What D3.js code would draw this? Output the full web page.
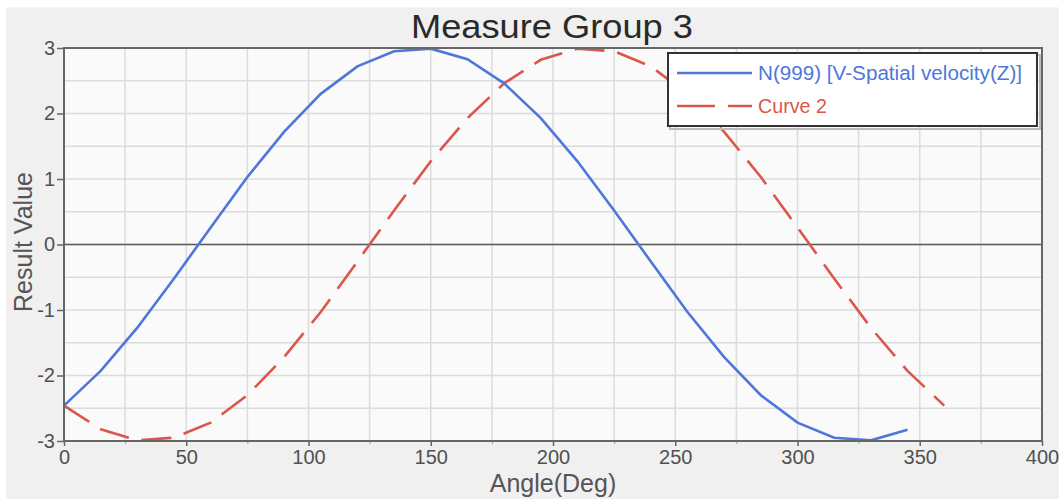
<!DOCTYPE html>
<html>
<head>
<meta charset="utf-8">
<script src="https://cdn.jsdelivr.net/npm/d3@7"></script>
<style>
  html, body { margin: 0; padding: 0; background: #ffffff; }
  svg { display: block; font-family: "Liberation Sans", Arial, sans-serif; }
</style>
</head>
<body>
<svg id="chart" width="1062" height="499"></svg>
<script>
// ---- data ----
const title = "Measure Group 3";
const xLabel = "Angle(Deg)";
const yLabel = "Result Value";
const seriesNames = ["N(999) [V-Spatial velocity(Z)]", "Curve 2"];

const angles1 = [0,15,30,45,60,75,90,105,120,135,150,165,180,195,210,225,240,255,270,285,300,315,330,345];
const values1 = [-2.46,-1.93,-1.27,-0.52,0.26,1.03,1.72,2.30,2.72,2.95,2.99,2.83,2.46,1.93,1.27,0.52,-0.26,-1.03,-1.72,-2.30,-2.72,-2.95,-2.99,-2.83];

const angles2 = [0,15,30,45,60,75,90,105,120,135,150,165,180,195,210,225,240,255,270,285,300,315,330,345,360];
const values2 = [-2.46,-2.82,-2.99,-2.95,-2.72,-2.30,-1.72,-1.03,-0.26,0.52,1.27,1.93,2.46,2.82,2.99,2.95,2.72,2.30,1.72,1.03,0.26,-0.52,-1.27,-1.93,-2.46];

const xTicks = [0,50,100,150,200,250,300,350,400];
const xMinor = [25,75,125,175,225,275,325,375];
const yTicks = [-3,-2,-1,0,1,2,3];
const yMinor = [-2.5,-1.5,-0.5,0.5,1.5,2.5];

// ---- styles ----
const blue = "#4f77d9";
const red = "#d9574b";

const svg = d3.select("#chart");

// outer panel
svg.append("rect").attr("x", 7).attr("y", 8).attr("width", 1051).attr("height", 495)
  .attr("fill", "#f0f0f0").attr("stroke", "#f6e4e4").attr("stroke-width", 1);

const x = d3.scaleLinear().domain([0, 400]).range([64, 1042]);
const y = d3.scaleLinear().domain([-3, 3]).range([441, 48]);

// plot background
svg.append("rect").attr("x", x(0)).attr("y", y(3))
  .attr("width", x(400) - x(0)).attr("height", y(-3) - y(3))
  .attr("fill", "#fafafa");

// grid
const grid = svg.append("g").attr("stroke", "#dcdcdc").attr("stroke-width", 1.5);
xTicks.concat(xMinor).forEach(v => {
  grid.append("line").attr("x1", x(v)).attr("x2", x(v)).attr("y1", y(-3)).attr("y2", y(3));
});
yTicks.concat(yMinor).forEach(v => {
  grid.append("line").attr("x1", x(0)).attr("x2", x(400)).attr("y1", y(v)).attr("y2", y(v));
});

// zero line
svg.append("line").attr("x1", x(0)).attr("x2", x(400)).attr("y1", y(0)).attr("y2", y(0))
  .attr("stroke", "#5a5a5a").attr("stroke-width", 1.5);

// lines
const line = d3.line().x(d => x(d[0])).y(d => y(d[1]));
svg.append("path").datum(angles2.map((a, i) => [a, values2[i]]))
  .attr("d", line).attr("fill", "none").attr("stroke", red).attr("stroke-width", 2.6)
  .attr("stroke-dasharray", "30,13");
svg.append("path").datum(angles1.map((a, i) => [a, values1[i]]))
  .attr("d", line).attr("fill", "none").attr("stroke", blue).attr("stroke-width", 2.6);

// axes
const fmt = d => String(d);
const xAxis = d3.axisBottom(x).tickValues(xTicks).tickSize(5).tickPadding(4).tickFormat(fmt);
const gx = svg.append("g").attr("transform", `translate(0,${y(-3)})`).call(xAxis);
gx.select(".domain").remove();
gx.selectAll("line").attr("stroke", "#666").attr("stroke-width", 1.5);
gx.selectAll("text").attr("font-size", 20).attr("fill", "#505050").attr("font-family", "Liberation Sans, Arial, sans-serif");

const xAxisMinor = d3.axisBottom(x).tickValues(xMinor).tickSize(3).tickFormat("");
const gxm = svg.append("g").attr("transform", `translate(0,${y(-3)})`).call(xAxisMinor);
gxm.select(".domain").remove();
gxm.selectAll("line").attr("stroke", "#999").attr("stroke-width", 1);

const yAxis = d3.axisLeft(y).tickValues(yTicks).tickSize(7).tickPadding(2).tickFormat(fmt);
const gy = svg.append("g").attr("transform", `translate(${x(0)},0)`).call(yAxis);
gy.select(".domain").remove();
gy.selectAll("line").attr("stroke", "#666").attr("stroke-width", 1.5);
gy.selectAll("text").attr("font-size", 20).attr("fill", "#505050").attr("font-family", "Liberation Sans, Arial, sans-serif");

// frame
svg.append("rect").attr("x", x(0)).attr("y", y(3))
  .attr("width", x(400) - x(0)).attr("height", y(-3) - y(3))
  .attr("fill", "none").attr("stroke", "#666").attr("stroke-width", 2);

// title
svg.append("text").attr("x", 552).attr("y", 38).attr("text-anchor", "middle")
  .attr("font-size", 33).attr("fill", "#2a2a2a").attr("textLength", 282).attr("lengthAdjust", "spacingAndGlyphs")
  .text(title);

// axis labels
svg.append("text").attr("x", 553).attr("y", 492).attr("text-anchor", "middle")
  .attr("font-size", 25).attr("fill", "#555").text(xLabel);
svg.append("text").attr("transform", "translate(32,242) rotate(-90)").attr("text-anchor", "middle")
  .attr("font-size", 25).attr("fill", "#555").text(yLabel);

// legend
const lg = svg.append("g");
lg.append("rect").attr("x", 670).attr("y", 55).attr("width", 370).attr("height", 74)
  .attr("fill", "none").attr("stroke", "#bbb").attr("stroke-width", 2);
lg.append("rect").attr("x", 668).attr("y", 53).attr("width", 369).attr("height", 73)
  .attr("fill", "#ffffff").attr("stroke", "#333").attr("stroke-width", 2);
const legendColors = [blue, red];
const legendDash = [null, "38,13"];
const legendWidths = [264, 69];
seriesNames.forEach((name, i) => {
  const ly = 73 + i * 33;
  lg.append("line").attr("x1", 677).attr("x2", 752).attr("y1", ly).attr("y2", ly)
    .attr("stroke", legendColors[i]).attr("stroke-width", 2.6)
    .attr("stroke-dasharray", legendDash[i]);
  lg.append("text").attr("x", 758).attr("y", ly + 7).attr("font-size", 20)
    .attr("fill", legendColors[i]).attr("textLength", legendWidths[i]).attr("lengthAdjust", "spacingAndGlyphs")
    .text(name);
});
</script>
</body>
</html>
